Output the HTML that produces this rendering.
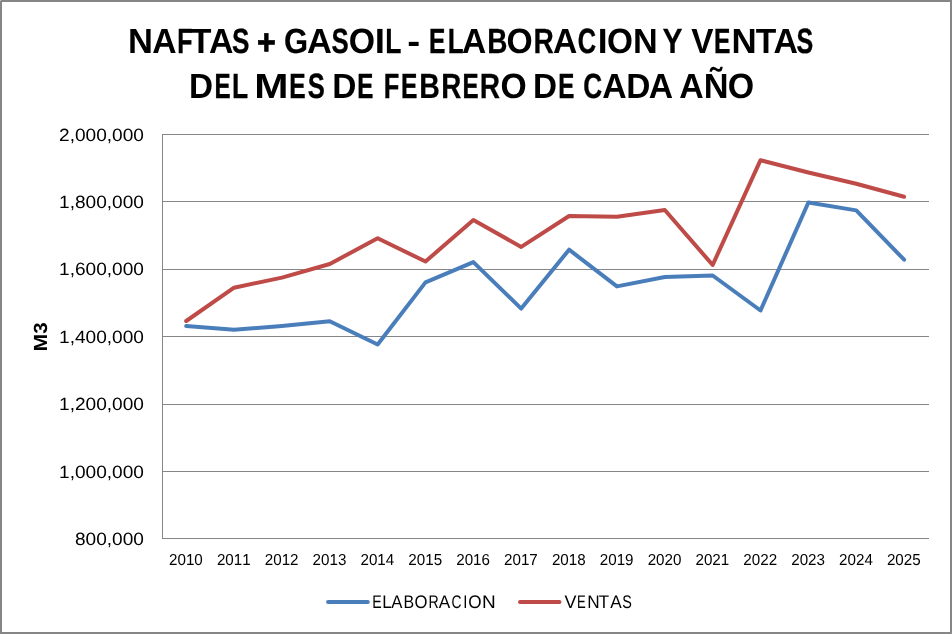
<!DOCTYPE html>
<html><head><meta charset="utf-8"><title>NAFTAS + GASOIL</title>
<style>
html,body{margin:0;padding:0;background:#fff;}
body{width:952px;height:634px;overflow:hidden;}
svg{display:block;font-family:"Liberation Sans",sans-serif;font-kerning:none;text-rendering:geometricPrecision;}
</style></head><body>
<svg width="952" height="634" viewBox="0 0 952 634">
<rect x="0" y="0" width="952" height="634" fill="#fff"/>
<rect x="1" y="1" width="950" height="632" fill="none" stroke="#868686" stroke-width="2"/>
<rect x="0" y="0" width="1" height="1" fill="#c2c2c2"/><rect x="951" y="633" width="1" height="1" fill="#9c9c9c"/>
<line x1="162.5" y1="134.5" x2="929" y2="134.5" stroke="#868686" stroke-width="1"/>
<line x1="162.5" y1="201.5" x2="929" y2="201.5" stroke="#868686" stroke-width="1"/>
<line x1="162.5" y1="269.5" x2="929" y2="269.5" stroke="#868686" stroke-width="1"/>
<line x1="162.5" y1="336.5" x2="929" y2="336.5" stroke="#868686" stroke-width="1"/>
<line x1="162.5" y1="404.5" x2="929" y2="404.5" stroke="#868686" stroke-width="1"/>
<line x1="162.5" y1="471.5" x2="929" y2="471.5" stroke="#868686" stroke-width="1"/>
<line x1="162.5" y1="538.5" x2="929" y2="538.5" stroke="#868686" stroke-width="1"/>
<line x1="162.5" y1="134.0" x2="162.5" y2="539.0" stroke="#868686" stroke-width="1"/>
<text transform="translate(59.04,140.50) scale(1.0735,1)" font-size="17.8" font-weight="normal" fill="#000">2,000,000</text>
<text transform="translate(59.04,208.13) scale(1.0735,1)" font-size="17.8" font-weight="normal" fill="#000">1,800,000</text>
<text transform="translate(59.04,275.07) scale(1.0735,1)" font-size="17.8" font-weight="normal" fill="#000">1,600,000</text>
<text transform="translate(59.04,342.80) scale(1.0735,1)" font-size="17.8" font-weight="normal" fill="#000">1,400,000</text>
<text transform="translate(59.04,410.13) scale(1.0735,1)" font-size="17.8" font-weight="normal" fill="#000">1,200,000</text>
<text transform="translate(59.04,477.97) scale(1.0735,1)" font-size="17.8" font-weight="normal" fill="#000">1,000,000</text>
<text transform="translate(74.97,544.80) scale(1.0735,1)" font-size="17.8" font-weight="normal" fill="#000">800,000</text>
<text transform="translate(169.04,564.9) scale(0.9543,1)" font-size="15.9">2010</text>
<text transform="translate(216.90,564.9) scale(0.9543,1)" font-size="15.9">2011</text>
<text transform="translate(264.76,564.9) scale(0.9543,1)" font-size="15.9">2012</text>
<text transform="translate(312.62,564.9) scale(0.9543,1)" font-size="15.9">2013</text>
<text transform="translate(360.48,564.9) scale(0.9543,1)" font-size="15.9">2014</text>
<text transform="translate(408.34,564.9) scale(0.9543,1)" font-size="15.9">2015</text>
<text transform="translate(456.20,564.9) scale(0.9543,1)" font-size="15.9">2016</text>
<text transform="translate(504.06,564.9) scale(0.9543,1)" font-size="15.9">2017</text>
<text transform="translate(551.92,564.9) scale(0.9543,1)" font-size="15.9">2018</text>
<text transform="translate(599.78,564.9) scale(0.9543,1)" font-size="15.9">2019</text>
<text transform="translate(647.64,564.9) scale(0.9543,1)" font-size="15.9">2020</text>
<text transform="translate(695.50,564.9) scale(0.9543,1)" font-size="15.9">2021</text>
<text transform="translate(743.36,564.9) scale(0.9543,1)" font-size="15.9">2022</text>
<text transform="translate(791.22,564.9) scale(0.9543,1)" font-size="15.9">2023</text>
<text transform="translate(839.08,564.9) scale(0.9543,1)" font-size="15.9">2024</text>
<text transform="translate(886.94,564.9) scale(0.9543,1)" font-size="15.9">2025</text>
<polyline points="186.20,326.00 234.06,329.80 281.92,326.00 329.78,321.30 377.64,344.50 425.50,282.40 473.36,262.10 521.22,308.60 569.08,249.70 616.94,286.40 664.80,277.00 712.66,275.50 760.52,310.50 808.38,202.50 856.24,210.40 904.10,259.70" fill="none" stroke="#4a7ebb" stroke-width="4" stroke-linecap="round" stroke-linejoin="round"/>
<polyline points="186.20,321.00 234.06,287.70 281.92,277.60 329.78,264.00 377.64,238.30 425.50,261.50 473.36,220.10 521.22,246.90 569.08,216.00 616.94,216.70 664.80,210.00 712.66,265.00 760.52,160.20 808.38,172.50 856.24,183.80 904.10,196.80" fill="none" stroke="#be4b48" stroke-width="4" stroke-linecap="round" stroke-linejoin="round"/>
<line x1="328.05" y1="602" x2="367.8" y2="602" stroke="#4a7ebb" stroke-width="4" stroke-linecap="round"/>
<text y="607.8" font-size="18.3" font-weight="normal"><tspan x="372.13" y="607.8" textLength="9.48" lengthAdjust="spacingAndGlyphs">E</tspan><tspan x="382.22" y="607.8" textLength="9.33" lengthAdjust="spacingAndGlyphs">L</tspan><tspan x="391.27" y="607.8" textLength="11.17" lengthAdjust="spacingAndGlyphs">A</tspan><tspan x="403.59" y="607.8" textLength="10.65" lengthAdjust="spacingAndGlyphs">B</tspan><tspan x="414.41" y="607.8" textLength="12.99" lengthAdjust="spacingAndGlyphs">O</tspan><tspan x="428.44" y="607.8" textLength="10.22" lengthAdjust="spacingAndGlyphs">R</tspan><tspan x="438.77" y="607.8" textLength="11.47" lengthAdjust="spacingAndGlyphs">A</tspan><tspan x="451.39" y="607.8" textLength="10.03" lengthAdjust="spacingAndGlyphs">C</tspan><tspan x="463.21" y="607.8" textLength="4.17" lengthAdjust="spacingAndGlyphs">I</tspan><tspan x="468.19" y="607.8" textLength="13.33" lengthAdjust="spacingAndGlyphs">O</tspan><tspan x="482.14" y="607.8" textLength="13.70" lengthAdjust="spacingAndGlyphs">N</tspan></text>
<line x1="520" y1="602" x2="559.5" y2="602" stroke="#be4b48" stroke-width="4" stroke-linecap="round"/>
<text y="607.8" font-size="18.3" font-weight="normal"><tspan x="564.52" y="607.8" textLength="11.96" lengthAdjust="spacingAndGlyphs">V</tspan><tspan x="577.03" y="607.8" textLength="8.74" lengthAdjust="spacingAndGlyphs">E</tspan><tspan x="587.19" y="607.8" textLength="12.41" lengthAdjust="spacingAndGlyphs">N</tspan><tspan x="598.72" y="607.8" textLength="10.37" lengthAdjust="spacingAndGlyphs">T</tspan><tspan x="610.37" y="607.8" textLength="11.47" lengthAdjust="spacingAndGlyphs">A</tspan><tspan x="622.35" y="607.8" textLength="9.62" lengthAdjust="spacingAndGlyphs">S</tspan></text>
<text y="0" font-size="19" font-weight="bold" transform="translate(47.1,350) rotate(-90)"><tspan x="-1.42" y="0" textLength="17.63" lengthAdjust="spacingAndGlyphs">M</tspan><tspan x="16.33" y="0" textLength="11.41" lengthAdjust="spacingAndGlyphs">3</tspan></text>
<text y="53" font-size="35.0" font-weight="bold"><tspan x="127.99" y="53" textLength="24.94" lengthAdjust="spacingAndGlyphs">N</tspan><tspan x="152.36" y="53" textLength="24.33" lengthAdjust="spacingAndGlyphs">A</tspan><tspan x="177.15" y="53" textLength="15.15" lengthAdjust="spacingAndGlyphs" stroke="#000" stroke-width="0.42">F</tspan><tspan x="190.61" y="53" textLength="20.95" lengthAdjust="spacingAndGlyphs">T</tspan><tspan x="208.96" y="53" textLength="24.43" lengthAdjust="spacingAndGlyphs">A</tspan><tspan x="231.92" y="53" textLength="17.42" lengthAdjust="spacingAndGlyphs" stroke="#000" stroke-width="0.35">S</tspan> <tspan x="257.05" y="54" textLength="18.75" lengthAdjust="spacingAndGlyphs" stroke="#000" stroke-width="0.80">+</tspan> <tspan x="284.08" y="53" textLength="24.09" lengthAdjust="spacingAndGlyphs" stroke="#000" stroke-width="0.10">G</tspan><tspan x="306.94" y="53" textLength="24.87" lengthAdjust="spacingAndGlyphs">A</tspan><tspan x="331.44" y="53" textLength="17.17" lengthAdjust="spacingAndGlyphs" stroke="#000" stroke-width="0.37">S</tspan><tspan x="348.81" y="53" textLength="26.31" lengthAdjust="spacingAndGlyphs">O</tspan><tspan x="374.84" y="53" textLength="10.22" lengthAdjust="spacingAndGlyphs">I</tspan><tspan x="385.20" y="53" textLength="16.15" lengthAdjust="spacingAndGlyphs" stroke="#000" stroke-width="0.33">L</tspan> <tspan x="407.28" y="53" textLength="12.98" lengthAdjust="spacingAndGlyphs">-</tspan> <tspan x="428.98" y="53" textLength="16.37" lengthAdjust="spacingAndGlyphs" stroke="#000" stroke-width="0.43">E</tspan><tspan x="447.64" y="53" textLength="15.89" lengthAdjust="spacingAndGlyphs" stroke="#000" stroke-width="0.35">L</tspan><tspan x="462.06" y="53" textLength="24.22" lengthAdjust="spacingAndGlyphs">A</tspan><tspan x="487.36" y="53" textLength="20.18" lengthAdjust="spacingAndGlyphs" stroke="#000" stroke-width="0.26">B</tspan><tspan x="506.62" y="53" textLength="26.20" lengthAdjust="spacingAndGlyphs">O</tspan><tspan x="533.54" y="53" textLength="20.31" lengthAdjust="spacingAndGlyphs" stroke="#000" stroke-width="0.25">R</tspan><tspan x="553.06" y="53" textLength="24.33" lengthAdjust="spacingAndGlyphs">A</tspan><tspan x="577.76" y="53" textLength="18.34" lengthAdjust="spacingAndGlyphs" stroke="#000" stroke-width="0.39">C</tspan><tspan x="597.73" y="53" textLength="9.84" lengthAdjust="spacingAndGlyphs">I</tspan><tspan x="606.93" y="53" textLength="25.97" lengthAdjust="spacingAndGlyphs">O</tspan><tspan x="632.91" y="53" textLength="24.69" lengthAdjust="spacingAndGlyphs">N</tspan> <tspan x="662.56" y="53" textLength="20.05" lengthAdjust="spacingAndGlyphs" stroke="#000" stroke-width="0.15">Y</tspan> <tspan x="691.17" y="53" textLength="22.26" lengthAdjust="spacingAndGlyphs">V</tspan><tspan x="714.08" y="53" textLength="16.37" lengthAdjust="spacingAndGlyphs" stroke="#000" stroke-width="0.43">E</tspan><tspan x="731.47" y="53" textLength="25.18" lengthAdjust="spacingAndGlyphs">N</tspan><tspan x="755.82" y="53" textLength="20.54" lengthAdjust="spacingAndGlyphs">T</tspan><tspan x="773.46" y="53" textLength="24.43" lengthAdjust="spacingAndGlyphs">A</tspan><tspan x="796.48" y="53" textLength="16.69" lengthAdjust="spacingAndGlyphs" stroke="#000" stroke-width="0.41">S</tspan></text>
<text y="98" font-size="35.0" font-weight="bold"><tspan x="189.07" y="98" textLength="24.02" lengthAdjust="spacingAndGlyphs">D</tspan><tspan x="214.51" y="98" textLength="16.10" lengthAdjust="spacingAndGlyphs" stroke="#000" stroke-width="0.45">E</tspan><tspan x="232.10" y="98" textLength="16.15" lengthAdjust="spacingAndGlyphs" stroke="#000" stroke-width="0.33">L</tspan> <tspan x="254.35" y="98" textLength="34.19" lengthAdjust="spacingAndGlyphs">M</tspan><tspan x="289.18" y="98" textLength="16.37" lengthAdjust="spacingAndGlyphs" stroke="#000" stroke-width="0.43">E</tspan><tspan x="307.75" y="98" textLength="17.05" lengthAdjust="spacingAndGlyphs" stroke="#000" stroke-width="0.38">S</tspan> <tspan x="332.16" y="98" textLength="24.14" lengthAdjust="spacingAndGlyphs">D</tspan><tspan x="357.31" y="98" textLength="16.10" lengthAdjust="spacingAndGlyphs" stroke="#000" stroke-width="0.45">E</tspan> <tspan x="383.79" y="98" textLength="15.55" lengthAdjust="spacingAndGlyphs" stroke="#000" stroke-width="0.38">F</tspan><tspan x="400.98" y="98" textLength="16.37" lengthAdjust="spacingAndGlyphs" stroke="#000" stroke-width="0.43">E</tspan><tspan x="419.21" y="98" textLength="20.57" lengthAdjust="spacingAndGlyphs" stroke="#000" stroke-width="0.23">B</tspan><tspan x="441.28" y="98" textLength="20.06" lengthAdjust="spacingAndGlyphs" stroke="#000" stroke-width="0.27">R</tspan><tspan x="462.41" y="98" textLength="16.10" lengthAdjust="spacingAndGlyphs" stroke="#000" stroke-width="0.45">E</tspan><tspan x="479.74" y="98" textLength="20.31" lengthAdjust="spacingAndGlyphs" stroke="#000" stroke-width="0.25">R</tspan><tspan x="500.42" y="98" textLength="26.20" lengthAdjust="spacingAndGlyphs">O</tspan> <tspan x="533.07" y="98" textLength="24.02" lengthAdjust="spacingAndGlyphs">D</tspan><tspan x="558.21" y="98" textLength="16.10" lengthAdjust="spacingAndGlyphs" stroke="#000" stroke-width="0.45">E</tspan> <tspan x="583.20" y="98" textLength="18.94" lengthAdjust="spacingAndGlyphs" stroke="#000" stroke-width="0.35">C</tspan><tspan x="602.16" y="98" textLength="24.43" lengthAdjust="spacingAndGlyphs">A</tspan><tspan x="626.36" y="98" textLength="24.14" lengthAdjust="spacingAndGlyphs">D</tspan><tspan x="648.76" y="98" textLength="24.33" lengthAdjust="spacingAndGlyphs">A</tspan> <tspan x="679.36" y="98" textLength="24.43" lengthAdjust="spacingAndGlyphs">A</tspan><tspan x="703.70" y="98" textLength="24.81" lengthAdjust="spacingAndGlyphs">Ñ</tspan><tspan x="727.71" y="98" textLength="26.42" lengthAdjust="spacingAndGlyphs">O</tspan></text>
</svg>
</body></html>
